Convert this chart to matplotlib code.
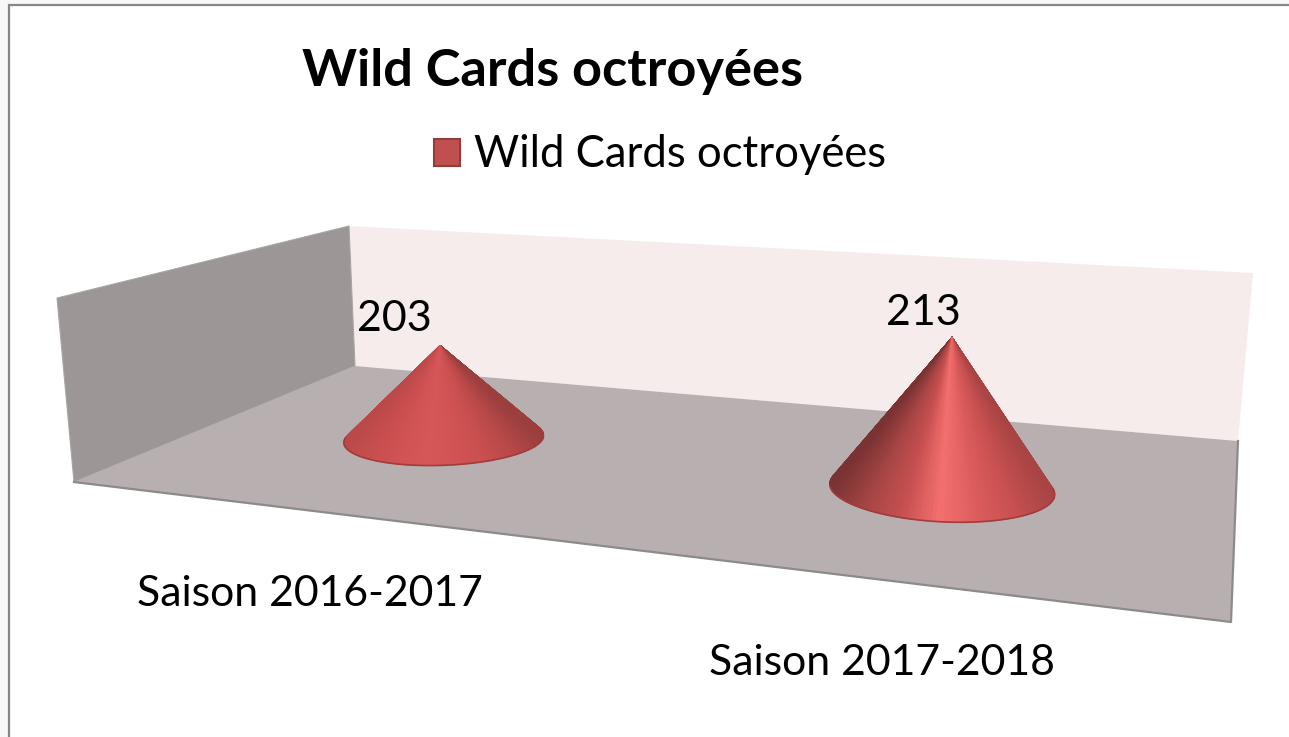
import numpy as np
from matplotlib import pyplot as plt
from matplotlib.collections import PolyCollection
from matplotlib.colors import LinearSegmentedColormap
from matplotlib.patches import Polygon, Rectangle

plt.rcParams['font.family'] = ['Lato', 'DejaVu Sans']

title = "Wild Cards octroyées"
series_name = "Wild Cards octroyées"
categories = ["Saison 2016-2017", "Saison 2017-2018"]
values = [203, 213]

# pixel corners of the fake 3d box
floor_px = [(355, 366), (1238, 441), (1231, 622), (74, 482)]
left_wall_px = [(57, 298), (349, 226), (355, 366), (74, 482)]
back_wall_px = [(349, 226), (1253, 273), (1238, 441), (355, 366)]

value_floor = 180.6
height_per_unit = 4.1
cone_radius = 0.0997
label_dx = [-46, -29]
label_dy = [-26, -24]

cmaps = [
    LinearSegmentedColormap.from_list("c1", ["#BC4949", "#C94E4E", "#D25353", "#D65757", "#D25353", "#C94F4F", "#B84848", "#9A3E3E"]),
    LinearSegmentedColormap.from_list("c2", ["#7A3232", "#A84545", "#C85050", "#F4706E", "#DC5C5C", "#C85050", "#A84444"]),
]


def make_homography(pts):
    src = [(0, 0), (1, 0), (1, 1), (0, 1)]
    a, b = [], []
    for (u, v), (x, y) in zip(src, pts):
        a.append([u, v, 1, 0, 0, 0, -u * x, -v * x])
        a.append([0, 0, 0, u, v, 1, -u * y, -v * y])
        b += [x, y]
    return np.append(np.linalg.solve(np.array(a, float), np.array(b, float)), 1).reshape(3, 3)


H = make_homography(floor_px)


def project(u, v):
    p = H @ np.array([u, v, np.ones_like(u)])
    return p[0] / p[2], p[1] / p[2]


def draw_cone(ax, i, value):
    u0 = (i + 0.5) / len(categories)
    t = np.linspace(0, 2 * np.pi, 181)
    aspect = 2.0
    bx, by = project(u0 + cone_radius * np.cos(t), 0.5 + cone_radius * aspect * np.sin(t))
    cx, cy = project(np.array(u0), np.array(0.5))
    half_w = (bx.max() - bx.min()) / 2
    h = (value - value_floor) * height_per_unit * half_w / 100
    ax_x = cx + 2.5e-4 * (cx - 640) * h
    ax_y = cy - h

    order = np.argsort(by[:-1])
    polys, cols = [], []
    for k in order:
        polys.append([(ax_x, ax_y), (bx[k], by[k]), (bx[k + 1], by[k + 1])])
        cols.append(cmaps[i]((bx[k] - bx.min()) / (2 * half_w)))
    ax.add_collection(PolyCollection(polys, facecolors=cols, edgecolors=cols, linewidths=0.6, zorder=4))
    ax.plot(bx, np.where(by > cy, by, np.nan), color="#A23C3C", lw=1.2, zorder=5)
    return ax_x, ax_y


fig = plt.figure(figsize=(12.89, 7.37), dpi=100, facecolor="#F8F8F8")
ax = fig.add_axes([0, 0, 1, 1])
ax.set_xlim(0, 1289)
ax.set_ylim(737, 0)
ax.axis("off")

# chart area with its grey frame, runs off the right and bottom
ax.add_patch(Rectangle((8.5, 4.5), 1300, 760, facecolor="white", edgecolor="#868686", lw=1.6, zorder=0))

ax.add_patch(Polygon(back_wall_px, closed=True, facecolor="#F7ECEC", edgecolor="none", zorder=1))
ax.add_patch(Polygon(left_wall_px, closed=True, facecolor="#9C9696", edgecolor="#A9A5A5", lw=0.8, zorder=1))
ax.add_patch(Polygon(floor_px, closed=True, facecolor="#B8B0B0", edgecolor="none", zorder=2))
edge_x, edge_y = zip(*[floor_px[1], floor_px[2], floor_px[3]])
ax.plot(edge_x, edge_y, color="#8C8A8A", lw=1.6, zorder=3)

for i, v in enumerate(values):
    apex_x, apex_y = draw_cone(ax, i, v)
    ax.text(apex_x + label_dx[i], apex_y + label_dy[i], str(v), fontsize=31, color="black",
            ha="center", va="center", zorder=6)
    tx, ty = project(np.array((i + 0.5) / len(categories)), np.array(1.0))
    ax.text(tx, ty + 83, categories[i], fontsize=30.8, color="black",
            ha="center", va="center", zorder=6)

ax.text(302, 71, title, fontsize=37.7, fontweight="bold", color="black", ha="left", va="center")

# legend
ax.add_patch(Rectangle((434, 139), 26, 27, facecolor="#C0504D", edgecolor="#953B39", lw=1.5, zorder=3))
ax.text(474, 154, series_name, fontsize=31.4, color="black", ha="left", va="center")

fig.savefig("out.png", dpi=100, facecolor=fig.get_facecolor())
